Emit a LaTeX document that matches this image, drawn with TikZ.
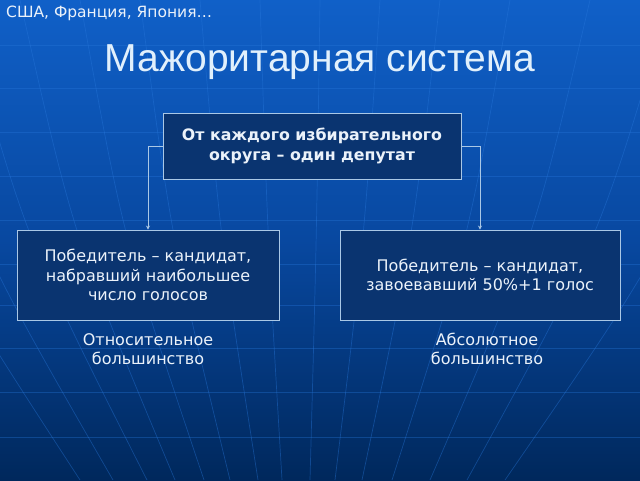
\documentclass[tikz,border=0pt]{standalone}
\usepackage{fontspec}
\setmainfont{DejaVu Sans}
\newfontfamily\titlefont{Liberation Sans}
\usetikzlibrary{arrows.meta}
\definecolor{bgtop}{RGB}{16,96,200}
\definecolor{bgmid}{RGB}{8,72,160}
\definecolor{bgbot}{RGB}{0,40,92}
\definecolor{boxfill}{RGB}{10,52,112}
\definecolor{boxline}{RGB}{170,200,230}
\definecolor{gridc}{RGB}{40,120,220}
\definecolor{titlec}{RGB}{225,240,252}
\definecolor{txtc}{RGB}{235,242,250}
\tikzset{
  bluebox/.style={draw=boxline, line width=0.9pt, fill=boxfill, align=center, text=txtc, inner sep=0pt},
  conn/.style={draw=boxline, line width=0.8pt, -{Stealth[length=4pt,width=4pt]}},
  plain/.style={text=txtc, align=center, font=\fontsize{16}{18.5}\selectfont},
  gridline/.style={draw=gridc, line width=0.7pt, opacity=0.55}
}
\begin{document}
\begin{tikzpicture}[x=1pt,y=-1pt]
\shade[top color=bgtop, bottom color=bgbot, middle color=bgmid] (0,0) rectangle (640,480);
\useasboundingbox (0,0) rectangle (640,480);
% faint globe grid
\foreach \yy in {45,88,132,176,220,264,305,348,392,437}
  \draw[gridline, opacity=0.35] (0,\yy) -- (640,\yy);
\foreach \xa/\xb in {-160/80, -100/113, -40/147, 20/175, 80/204, 140/230, 200/258, 260/282, 320/310, 380/335, 440/362, 510/392, 590/430, 670/467, 760/505}
  \draw[gridline, opacity=0.4] (\xa,0) .. controls ({(\xa+\xb)/2+ (\xa-\xb)*0.15},240) .. (\xb,480);
% title texts
\node[anchor=west, text=txtc, font=\fontsize{15.5}{18}\selectfont, inner sep=0pt] (sub) at (6,13) {США, Франция, Япония…};
\node[text=titlec, font=\titlefont\fontsize{39}{44}\selectfont, inner sep=0pt] (title) at (320,62) {Мажоритарная система};
% boxes
\node[bluebox, minimum width=298pt, minimum height=66pt, font=\bfseries\fontsize{15.8}{20}\selectfont] (top) at (312,146) {От каждого избирательного\\округа – один депутат};
\node[bluebox, minimum width=262pt, minimum height=90pt, font=\fontsize{16}{19.5}\selectfont] (left) at (148,275) {Победитель – кандидат,\\набравший наибольшее\\число голосов};
\node[bluebox, minimum width=280pt, minimum height=90pt, font=\fontsize{16}{19.5}\selectfont] (right) at (480,275) {Победитель – кандидат,\\завоевавший 50\%+1 голос};
% connectors
\draw[conn] (top.west) -| (left.north);
\draw[conn] (top.east) -| (right.north);
% labels
\node[plain] (rel) at (148,349) {Относительное\\большинство};
\node[plain] (abs) at (487,349) {Абсолютное\\большинство};
\end{tikzpicture}
\end{document}
